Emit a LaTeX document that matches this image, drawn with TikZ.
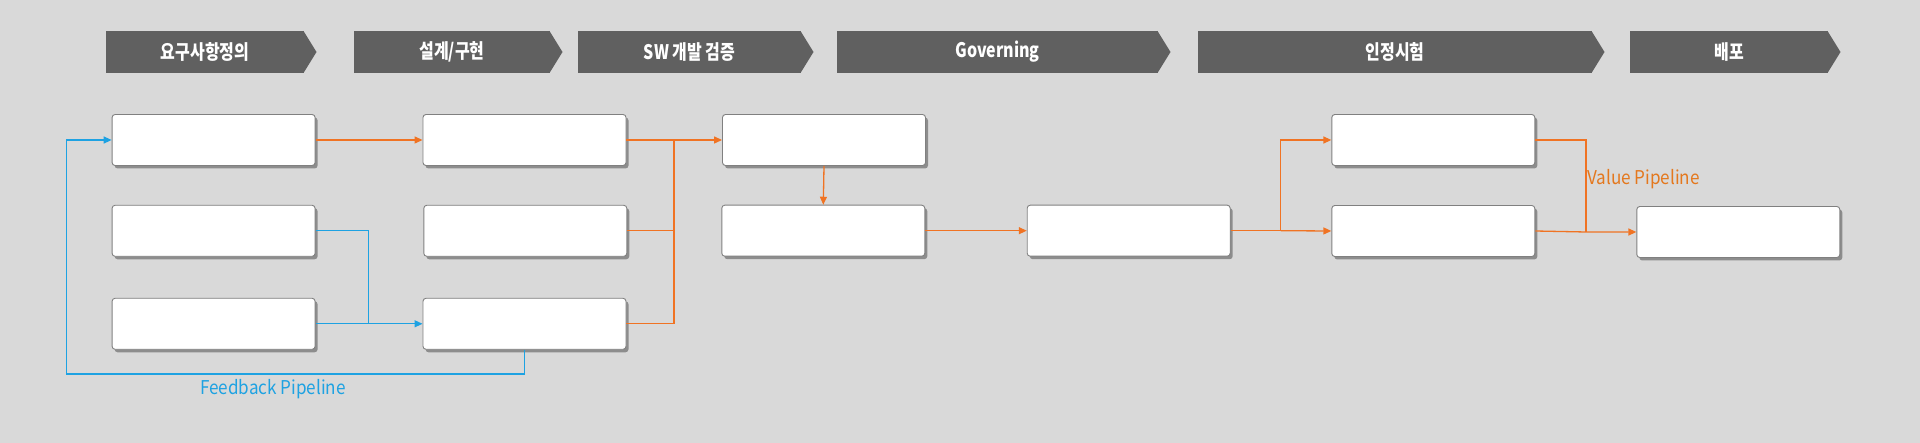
\documentclass[tikz,border=0pt]{standalone}
\usepackage{fontspec}
\newfontfamily\hfont[FakeStretch=0.8]{Noto Sans CJK KR}
\newfontfamily\lfont[FakeStretch=0.9]{Noto Sans CJK KR}
\usetikzlibrary{shadows,arrows.meta,calc}
\definecolor{bgc}{RGB}{217,217,217}
\definecolor{hdrc}{RGB}{96,96,96}
\definecolor{orc}{RGB}{240,115,35}
\definecolor{ortext}{RGB}{228,120,30}
\definecolor{blc}{RGB}{30,162,226}
\definecolor{bordc}{RGB}{128,128,128}
\begin{document}
\begin{tikzpicture}[x=1pt,y=1pt,
  hdrbox/.style={fill=hdrc,text=white,minimum height=42pt,inner sep=0pt,outer sep=0pt,font=\hfont\bfseries\fontsize{20}{22}\selectfont},
  stepbox/.style={draw=bordc,line width=0.9pt,fill=white,rounded corners=3pt,minimum width=203pt,minimum height=51pt,inner sep=0pt,
     drop shadow={shadow xshift=2.5pt,shadow yshift=-3pt,fill=black,opacity=0.35}},
  oline/.style={draw=orc,line width=1.3pt},
  bline/.style={draw=blc,line width=1.3pt},
  tip/.style={-{Triangle[length=8pt,width=7pt]}},
  lbl/.style={font=\lfont\fontsize{19}{21}\selectfont,inner sep=0pt}]
\useasboundingbox (0,0) rectangle (1920,-443);
\fill[bgc] (0,0) rectangle (1920,-443);
% headers
\node[hdrbox,minimum width=198pt] (h1) at (205,-52) {요구사항정의};
\node[hdrbox,minimum width=196pt] (h2) at (452,-52) {설계/구현};
\node[hdrbox,minimum width=223pt] (h3) at (689.5,-52) {SW 개발 검증};
\node[hdrbox,minimum width=321pt] (h4) at (997.5,-52) {Governing};
\node[hdrbox,minimum width=394pt] (h5) at (1395,-52) {인정시험};
\node[hdrbox,minimum width=198pt] (h6) at (1729,-52) {배포};
\foreach \h in {h1,h2,h3,h4,h5,h6}{
  \fill[hdrc] ([xshift=-0.5pt]\h.north east) -- ($(\h.east)+(12.5,0)$) -- ([xshift=-0.5pt]\h.south east) -- cycle;
}
% boxes
\node[stepbox] (b11) at (213.6,-140) {};
\node[stepbox] (b21) at (213.6,-230.8) {};
\node[stepbox] (b31) at (213.6,-323.8) {};
\node[stepbox] (b12) at (524.5,-140) {};
\node[stepbox] (b22) at (525.3,-230.8) {};
\node[stepbox] (b32) at (524.5,-323.8) {};
\node[stepbox] (b13) at (824,-140) {};
\node[stepbox] (b23) at (823.3,-230.7) {};
\node[stepbox] (b24) at (1128.7,-230.7) {};
\node[stepbox] (b15) at (1433.3,-140) {};
\node[stepbox] (b25) at (1433.3,-231) {};
\node[stepbox] (b26) at (1738.3,-232) {};
% junctions
\coordinate (j1) at (674,-140);
\coordinate (j2) at (1280.8,-230.7);
\coordinate (j3) at (1586,-232);
\coordinate (jb) at (368.8,-323.8);
\coordinate (fb1) at (524.5,-374);
\coordinate (fb2) at (66.5,-374);
% orange connectors
\draw[oline,tip] (b11.east) -- (b12.west);
\draw[oline,tip] (b12.east) -- (b13.west);
\draw[oline] (b22.east) -| (j1);
\draw[oline] (b32.east) -| (j1);
\draw[oline,tip] (b13.south) -- (b23.north);
\draw[oline,tip] (b23.east) -- (b24.west);
\draw[oline] (b24.east) -- (j2);
\draw[oline,tip] (j2) -- (b25.west);
\draw[oline,tip] (j2) |- (b15.west);
\draw[oline] (b15.east) -| (j3);
\draw[oline,tip] (b25.east) -- (j3) -- (b26.west);
% blue connectors
\draw[bline] (b21.east) -| (jb);
\draw[bline,tip] (b31.east) -- (b32.west);
\draw[bline,tip] (b32.south) -- (fb1) -- (fb2) |- (b11.west);
% labels
\node[lbl,text=blc] (fbl) at (273,-389) {Feedback Pipeline};
\node[lbl,text=ortext,anchor=west] (vpl) at (1587,-179) {Value Pipeline};
\end{tikzpicture}
\end{document}
